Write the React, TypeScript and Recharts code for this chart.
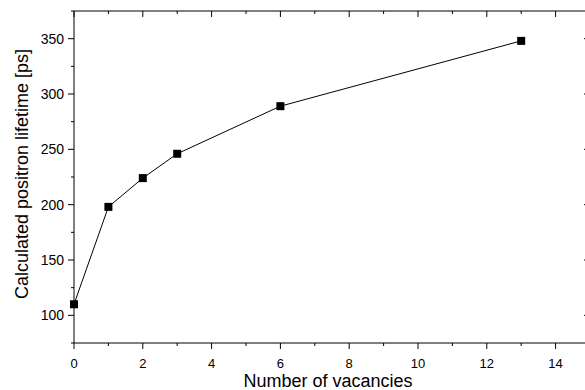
import { LineChart, Line, XAxis, YAxis } from 'recharts'

const vacancies = [0, 1, 2, 3, 6, 13]
const lifetimes = [110, 198, 224, 246, 289, 348]
const xTicks = [0, 1, 2, 3, 4, 5, 6, 7, 8, 9, 10, 11, 12, 13, 14, 15]
const yTicks = [75, 100, 125, 150, 175, 200, 225, 250, 275, 300, 325, 350, 375]

const data = vacancies.map((v, i) => ({ x: v, y: lifetimes[i] }))

const FONT = '"Liberation Sans", Arial, Helvetica, sans-serif'
const MAJOR = 6
const MINOR = 3

const isMajorX = (v: number) => v % 2 === 0
const isMajorY = (v: number) => v % 50 === 0

function BottomTick({ x, y, payload }: any) {
  const v = payload.value
  const major = isMajorX(v)
  return (
    <g>
      <line x1={x} x2={x} y1={y} y2={y + (major ? MAJOR : MINOR)} stroke="#000" />
      {major && v <= 14 && (
        <text x={x} y={y + 25} textAnchor="middle" fontSize={13} fontFamily={FONT} fill="#000">
          {v}
        </text>
      )}
    </g>
  )
}

function TopTick({ x, y, payload }: any) {
  const major = isMajorX(payload.value)
  return <line x1={x} x2={x} y1={y} y2={y + (major ? MAJOR : MINOR)} stroke="#000" />
}

function LeftTick({ x, y, payload }: any) {
  const v = payload.value
  const major = isMajorY(v)
  return (
    <g>
      <line x1={x - (major ? MAJOR : MINOR)} x2={x} y1={y} y2={y} stroke="#000" />
      {major && v >= 100 && v <= 350 && (
        <text x={x - 10} y={y + 5} textAnchor="end" fontSize={14} fontFamily={FONT} fill="#000">
          {v}
        </text>
      )}
    </g>
  )
}

function RightTick({ x, y, payload }: any) {
  const major = isMajorY(payload.value)
  return <line x1={x - (major ? MAJOR : MINOR)} x2={x} y1={y} y2={y} stroke="#000" />
}

function SquareDot(p: any) {
  return <rect key={p.index} x={p.cx - 4} y={p.cy - 4} width={8} height={8} fill="#000" />
}

export default function App() {
  return (
    <div style={{ position: 'fixed', left: 0, top: 0, width: 585, height: 390, overflow: 'hidden', background: '#fff' }}>
      <LineChart width={600} height={390} data={data} margin={{ top: 11, right: 10, bottom: 0, left: 0 }}>
        <XAxis
          xAxisId="main"
          dataKey="x"
          type="number"
          domain={[0, 15]}
          ticks={xTicks}
          interval={0}
          height={47}
          tickSize={0}
          tickMargin={0}
          tickLine={false}
          tick={BottomTick}
          axisLine={{ stroke: '#000' }}
          label={{ value: 'Number of vacancies', position: 'center', dx: -4, dy: 14, fontSize: 18, fontFamily: FONT, fill: '#000' }}
        />
        <XAxis
          xAxisId="top"
          dataKey="x"
          orientation="top"
          type="number"
          domain={[0, 15]}
          ticks={xTicks}
          interval={0}
          mirror
          height={1}
          tickSize={0}
          tickMargin={0}
          tickLine={false}
          tick={TopTick}
          axisLine={{ stroke: '#000' }}
        />
        <YAxis
          yAxisId="main"
          type="number"
          domain={[75, 375]}
          ticks={yTicks}
          interval={0}
          width={74}
          tickSize={0}
          tickMargin={0}
          tickLine={false}
          tick={LeftTick}
          axisLine={{ stroke: '#000' }}
          label={{ value: 'Calculated positron lifetime [ps]', angle: -90, position: 'center', dx: -15, dy: -3, fontSize: 18, fontFamily: FONT, fill: '#000' }}
        />
        <YAxis
          yAxisId="right"
          orientation="right"
          type="number"
          domain={[75, 375]}
          ticks={yTicks}
          interval={0}
          mirror
          width={1}
          tickSize={0}
          tickMargin={0}
          tickLine={false}
          tick={RightTick}
          axisLine={{ stroke: '#000' }}
        />
        <Line
          xAxisId="top"
          yAxisId="right"
          dataKey="y"
          stroke="none"
          dot={false}
          activeDot={false}
          isAnimationActive={false}
        />
        <Line
          xAxisId="main"
          yAxisId="main"
          dataKey="y"
          type="linear"
          stroke="#000"
          strokeWidth={1}
          dot={SquareDot}
          isAnimationActive={false}
        />
      </LineChart>
    </div>
  )
}
